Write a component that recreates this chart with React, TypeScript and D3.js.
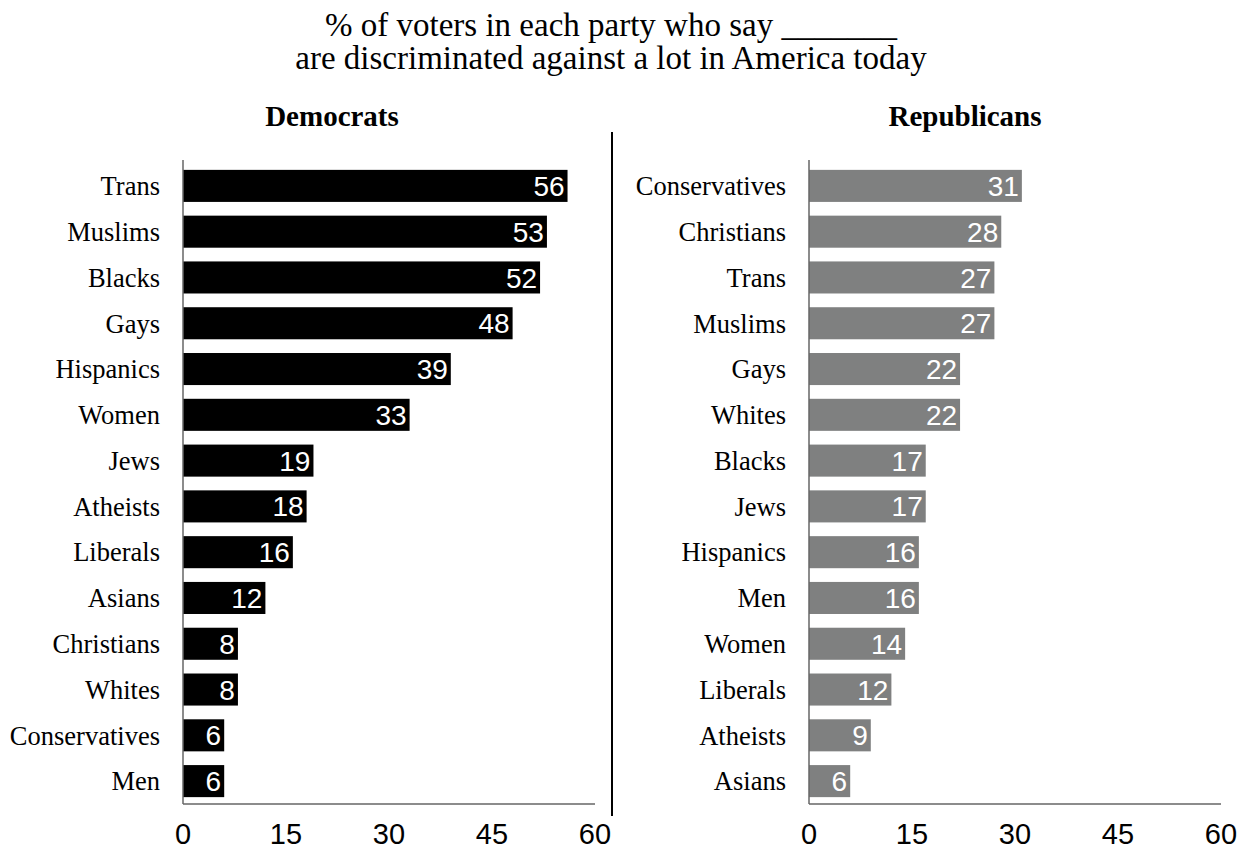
import React from "react";
import * as d3 from "d3";

const demCategories = ["Trans","Muslims","Blacks","Gays","Hispanics","Women","Jews","Atheists","Liberals","Asians","Christians","Whites","Conservatives","Men"];
const demValues = [56,53,52,48,39,33,19,18,16,12,8,8,6,6];
const repCategories = ["Conservatives","Christians","Trans","Muslims","Gays","Whites","Blacks","Jews","Hispanics","Men","Women","Liberals","Atheists","Asians"];
const repValues = [31,28,27,27,22,22,17,17,16,16,14,12,9,6];
const tickValues = [0,15,30,45,60];
const titleLines = ["% of voters in each party who say _______", "are discriminated against a lot in America today"];

const W = 1246, H = 852;
const serif = "'Liberation Serif', 'Times New Roman', serif";
const sans = "'Liberation Sans', Arial, Helvetica, sans-serif";

function Panel({ x0, x1, titleX, title, cats, vals, color }: { x0: number; x1: number; titleX: number; title: string; cats: string[]; vals: number[]; color: string }) {
  const x = d3.scaleLinear().domain([0, 60]).range([x0, x1]);
  const y = d3.scaleBand<string>().domain(cats).range([163, 804]).paddingInner(0.3).paddingOuter(0.15);
  const axisY = 804;
  return (
    <g>
      <text x={titleX} y={126} textAnchor="middle" fontFamily={serif} fontWeight="bold" fontSize={29} fill="#000">{title}</text>
      {cats.map((c, i) => (
        <g key={c}>
          <rect x={x(0)} y={y(c)!} width={x(vals[i]) - x(0)} height={y.bandwidth()} fill={color} />
          <text x={x(vals[i]) - 3} y={y(c)! + y.bandwidth() / 2} dy="0.36em" textAnchor="end" fontFamily={sans} fontSize={28} fill="#fff">{vals[i]}</text>
          <text x={x0 - 23} y={y(c)! + y.bandwidth() / 2} dy="0.35em" textAnchor="end" fontFamily={serif} fontSize={26.5} fill="#000">{c}</text>
        </g>
      ))}
      <line x1={x0} x2={x0} y1={160} y2={axisY} stroke="#666" strokeWidth={1.5} />
      <line x1={x0} x2={x1} y1={axisY} y2={axisY} stroke="#666" strokeWidth={1.5} />
      {tickValues.map(t => (
        <text key={t} x={x(t)} y={834} dy="0.36em" textAnchor="middle" fontFamily={sans} fontSize={29} fill="#000">{t}</text>
      ))}
    </g>
  );
}

export default function App() {
  return (
    <svg width={W} height={H} style={{ position: "absolute", left: 0, top: 0, background: "#fff" }}>
      <rect width={W} height={H} fill="#fff" />
      {titleLines.map((l, i) => (
        <text key={i} x={611} y={24 + i * 33} dy="0.35em" textAnchor="middle" fontFamily={serif} fontSize={33} fill="#000">{l}</text>
      ))}
      <line x1={612} x2={612} y1={132} y2={816} stroke="#000" strokeWidth={2} />
      <Panel x0={183} x1={595} titleX={332} title="Democrats" cats={demCategories} vals={demValues} color="#000" />
      <Panel x0={809} x1={1221} titleX={965} title="Republicans" cats={repCategories} vals={repValues} color="#7f8080" />
    </svg>
  );
}
